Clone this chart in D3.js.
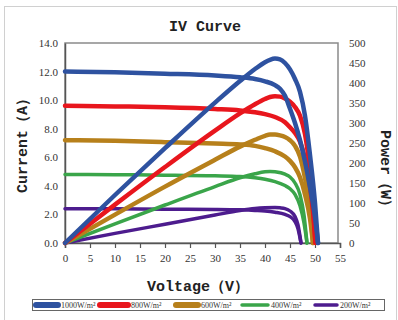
<!DOCTYPE html>
<html lang="en">
<head>
  <meta charset="UTF-8">
  <title>IV Curve</title>
  <style>
    body { margin: 0; background: #fff; overflow: hidden; }
    .tick text { font-family: "Liberation Serif", serif; font-size: 11px; fill: #333; }
    .label { font-family: "Liberation Mono", monospace; font-weight: bold; fill: #222; }
  </style>
</head>
<body>
  <script src="https://d3js.org/d3.v7.min.js"></script>
  <script>
    const names = ["1000W/m²", "800W/m²", "600W/m²", "400W/m²", "200W/m²"];
    const colors = ["#2e52a0", "#e8161d", "#b7801b", "#3aa54a", "#4d1c8e"];

    // current (A) vs voltage (V)
    const iv1000 = [[0,12.0],[10,11.95],[20,11.85],[30,11.72],[35,11.6],[38,11.48],[40,11.32],[42,11.05],[43,10.8],[44,10.3],[45,9.4],[46,8.4],[47,7.2],[48,5.7],[49,3.9],[50,1.8],[50.6,0]];
    const iv800  = [[0,9.6],[10,9.56],[20,9.5],[30,9.38],[35,9.28],[38,9.15],[40,9.02],[42,8.82],[44,8.45],[45,8.1],[46,7.7],[47,7.1],[48,5.9],[49,4.0],[49.6,2.2],[50.1,0]];
    const iv600  = [[0,7.2],[10,7.15],[20,7.06],[30,6.96],[35,6.9],[38,6.8],[40,6.64],[42,6.42],[44,6.05],[45,5.75],[46,5.3],[47,4.6],[48,3.4],[49,1.7],[49.6,0]];
    const iv400  = [[0,4.8],[10,4.78],[20,4.75],[30,4.7],[35,4.65],[38,4.56],[40,4.46],[42,4.3],[44,4.02],[45,3.8],[46,3.4],[47,2.6],[47.8,1.4],[48.4,0]];
    const iv200  = [[0,2.4],[10,2.39],[20,2.37],[30,2.35],[35,2.32],[38,2.28],[40,2.24],[42,2.15],[44,2.0],[45,1.85],[46,1.5],[46.6,1.0],[47.2,0]];

    // power (W) vs voltage (V)
    const pv1000 = [[0,0],[10,120],[20,237],[30,351],[35,405],[38,435],[40,452],[41,458],[42,461],[43,459],[44,450],[45,434],[46,410],[47,378],[48,318],[49,220],[50,100],[50.6,0]];
    const pv800  = [[0,0],[10,96],[20,190],[30,281],[35,324],[38,347],[40,360],[41,365],[42,367],[43,366],[44,361],[45,353],[46,340],[47,318],[48,272],[49,180],[49.6,95],[50.1,0]];
    const pv600  = [[0,0],[10,71],[20,141],[30,208],[35,241],[38,258],[40,268],[41,271],[42,271],[43,269],[44,265],[45,257],[46,243],[47,216],[48,162],[49,86],[49.6,0]];
    const pv400  = [[0,0],[10,48],[20,95],[30,141],[35,163],[38,173],[40,178],[41,179],[42,178],[44,172],[45,165],[46,150],[47,121],[47.8,70],[48.4,0]];
    const pv200  = [[0,0],[10,24],[20,47],[30,70],[35,81],[38,86],[40,88],[42,89],[43,88],[44,86],[45,80],[46,66],[46.6,45],[47.2,0]];

    const ivSeries = [iv1000, iv800, iv600, iv400, iv200];
    const pvSeries = [pv1000, pv800, pv600, pv400, pv200];
    const widths = [4.5, 4.5, 4.5, 3.5, 3.5];

    const xTicks = d3.range(0, 56, 5);
    const yTicks = d3.range(0, 14.1, 2);
    const pTicks = d3.range(0, 501, 50);

    const W = 398, H = 320;
    const m = { left: 65, right: 340, top: 43, bottom: 243 };

    const svg = d3.select("body").append("svg").attr("width", W).attr("height", H);

    svg.append("rect").attr("x", 4.5).attr("y", 6.5).attr("width", 392).attr("height", 320)
      .attr("fill", "none").attr("stroke", "#d0d0d0");

    const x = d3.scaleLinear().domain([0, 55]).range([m.left, m.right]);
    const y = d3.scaleLinear().domain([0, 14]).range([m.bottom, m.top]);
    const yp = d3.scaleLinear().domain([0, 500]).range([m.bottom, m.top]);

    // plot frame
    svg.append("rect").attr("x", m.left).attr("y", m.top)
      .attr("width", x(55) - m.left - 2).attr("height", m.bottom - m.top)
      .attr("fill", "none").attr("stroke", "#8a8a8a").attr("stroke-width", 1.5);

    const xAxis = svg.append("g").attr("transform", `translate(0,${m.bottom})`)
      .call(d3.axisBottom(x).tickValues(xTicks).tickSize(5).tickPadding(6).tickFormat(d3.format("d")));
    xAxis.select(".domain").attr("stroke", "#555").attr("stroke-width", 1.5);
    xAxis.selectAll(".tick line").attr("stroke", "#555").attr("stroke-width", 1.2);

    const yAxis = svg.append("g").attr("transform", `translate(${m.left},0)`)
      .call(d3.axisLeft(y).tickValues(yTicks).tickSize(0).tickPadding(7).tickFormat(d3.format(".1f")));
    yAxis.select(".domain").attr("stroke", "#555").attr("stroke-width", 1.5);

    const pAxis = svg.append("g").attr("transform", `translate(${m.right + 5},0)`)
      .call(d3.axisRight(yp).tickValues(pTicks).tickSize(0).tickPadding(4));
    pAxis.select(".domain").remove();

    const line = (ys) => d3.line().x(d => x(d[0])).y(d => ys(d[1])).curve(d3.curveMonotoneX);

    const curves = svg.append("g").attr("fill", "none").attr("stroke-linecap", "round").attr("stroke-linejoin", "round");
    for (let i = names.length - 1; i >= 0; i--) {
      curves.append("path").datum(pvSeries[i]).attr("d", line(yp))
        .attr("stroke", colors[i]).attr("stroke-width", widths[i]);
      curves.append("path").datum(ivSeries[i]).attr("d", line(y))
        .attr("stroke", colors[i]).attr("stroke-width", widths[i]);
    }

    svg.append("text").attr("class", "label").attr("x", 205).attr("y", 31)
      .attr("text-anchor", "middle").attr("font-size", 15).text("IV Curve");
    svg.append("text").attr("class", "label").attr("x", 198).attr("y", 291)
      .attr("text-anchor", "middle").attr("font-size", 15).text("Voltage（V）");
    svg.append("text").attr("class", "label")
      .attr("transform", "translate(27,142) rotate(-90)")
      .attr("text-anchor", "middle").attr("font-size", 15).text("Current（A）");
    svg.append("text").attr("class", "label")
      .attr("transform", "translate(381,172) rotate(90)")
      .attr("text-anchor", "middle").attr("font-size", 15).text("Power（W）");

    // legend
    const lg = svg.append("g");
    lg.append("rect").attr("x", 32.5).attr("y", 299.5).attr("width", 352).attr("height", 11)
      .attr("fill", "#fff").attr("stroke", "#666");
    const legX = [34, 98, 174, 240, 313];
    const legLen = [26, 32, 26, 30, 26];
    names.forEach((n, i) => {
      lg.append("line").attr("x1", legX[i] + 2).attr("x2", legX[i] + legLen[i] - 2)
        .attr("y1", 305).attr("y2", 305)
        .attr("stroke", colors[i]).attr("stroke-width", i < 3 ? 6 : 3.5).attr("stroke-linecap", "round");
      lg.append("text").attr("x", legX[i] + legLen[i] + 1).attr("y", 308)
        .attr("font-family", "Liberation Serif, serif").attr("font-size", 8).attr("fill", "#333")
        .text(n);
    });
  </script>
</body>
</html>
